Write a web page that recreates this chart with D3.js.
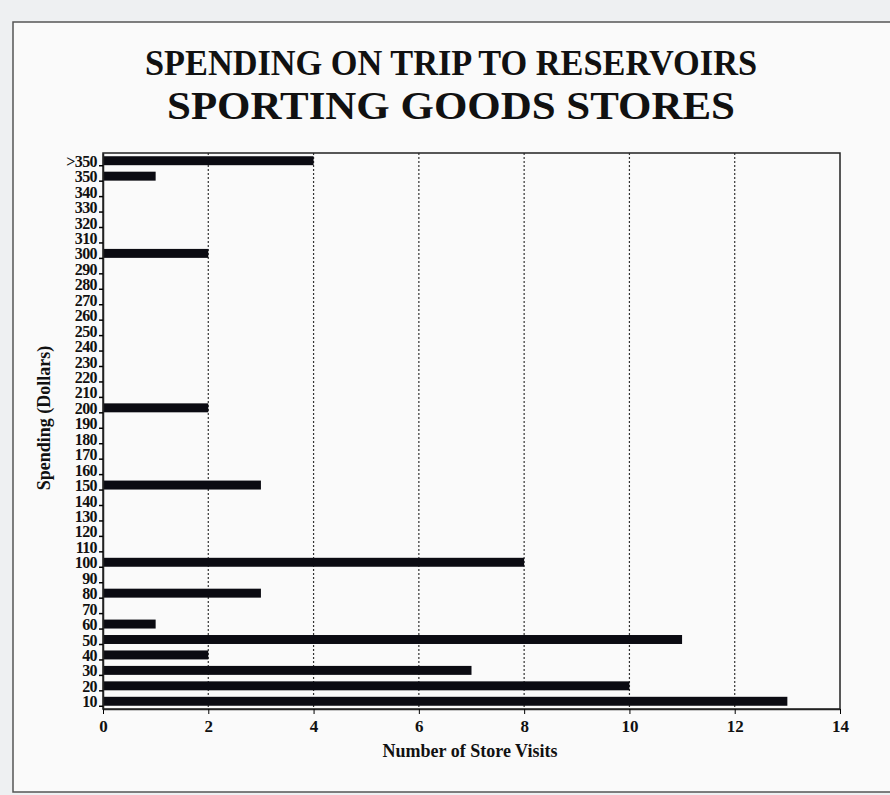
<!DOCTYPE html>
<html>
<head>
<meta charset="utf-8">
<script src="https://cdn.jsdelivr.net/npm/d3@7"></script>
<style>
  body { margin: 0; background: #eef0f2; }
  text { font-family: "Liberation Serif", "Times New Roman", serif; font-weight: bold; fill: #111; }
</style>
</head>
<body>
<div id="chart"></div>
<script type="text/javascript">
// spending brackets, top to bottom as printed
var categories = [">350", "350", "340", "330", "320", "310", "300", "290", "280", "270",
  "260", "250", "240", "230", "220", "210", "200", "190", "180", "170",
  "160", "150", "140", "130", "120", "110", "100", "90", "80", "70",
  "60", "50", "40", "30", "20", "10"];
// number of store visits per bracket
var visits = [4, 1, 0, 0, 0, 0, 2, 0, 0, 0,
  0, 0, 0, 0, 0, 0, 2, 0, 0, 0,
  0, 3, 0, 0, 0, 0, 8, 0, 3, 0,
  1, 11, 2, 7, 10, 13];
var xTicks = [0, 2, 4, 6, 8, 10, 12, 14];
var titleLines = ["SPENDING ON TRIP TO RESERVOIRS", "SPORTING GOODS STORES"];

function drawChart() {
  var W = 890, H = 795;
  var margin = {top: 153, right: 50, bottom: 86, left: 103},
      width = W - margin.left - margin.right,
      height = H - margin.top - margin.bottom;

  var svg = d3.select("#chart").append("svg")
      .attr("width", W)
      .attr("height", H);

  // paper frame
  svg.append("rect")
      .attr("x", 13).attr("y", 22)
      .attr("width", 890).attr("height", 770)
      .attr("fill", "#fafafa")
      .attr("stroke", "#555")
      .attr("stroke-width", 1.5);

  // titles
  svg.append("text")
      .attr("x", 451).attr("y", 75)
      .attr("text-anchor", "middle")
      .attr("font-size", 35)
      .attr("textLength", 612)
      .attr("lengthAdjust", "spacingAndGlyphs")
      .text(titleLines[0]);
  svg.append("text")
      .attr("x", 451).attr("y", 119)
      .attr("text-anchor", "middle")
      .attr("font-size", 40)
      .attr("textLength", 568)
      .attr("lengthAdjust", "spacingAndGlyphs")
      .text(titleLines[1]);

  var g = svg.append("g")
      .attr("transform", "translate(" + margin.left + "," + margin.top + ")");

  var x = d3.scaleLinear().domain([0, 14]).range([0, width]);
  var y = d3.scaleBand().domain(categories).range([0, height]).paddingInner(0.42).paddingOuter(0.21);

  // dotted grid
  g.selectAll(".grid")
      .data(xTicks.slice(1, -1))
    .enter().append("line")
      .attr("x1", function(d) { return x(d); })
      .attr("x2", function(d) { return x(d); })
      .attr("y1", 0).attr("y2", height)
      .attr("stroke", "#333")
      .attr("stroke-width", 1.2)
      .attr("stroke-dasharray", "2,2");

  // bars
  var data = categories.map(function(c, i) { return {cat: c, v: visits[i]}; });
  g.selectAll(".bar")
      .data(data.filter(function(d) { return d.v > 0; }))
    .enter().append("rect")
      .attr("x", 0)
      .attr("y", function(d) { return y(d.cat); })
      .attr("width", function(d) { return x(d.v); })
      .attr("height", y.bandwidth())
      .attr("fill", "#0b0b12");

  // plot frame
  g.append("rect")
      .attr("width", width).attr("height", height)
      .attr("fill", "none")
      .attr("stroke", "#222")
      .attr("stroke-width", 1.5);

  // x axis
  var xAxis = g.append("g")
      .attr("transform", "translate(0," + height + ")")
      .call(d3.axisBottom(x).tickValues(xTicks).tickSize(5).tickSizeOuter(0).tickPadding(6));
  xAxis.select(".domain").attr("stroke", "#222").attr("stroke-width", 1.5);
  xAxis.selectAll("text").attr("font-size", 17).attr("font-family", null);

  // y axis
  var yAxis = g.append("g")
      .call(d3.axisLeft(y).tickSize(4).tickSizeOuter(0).tickPadding(2));
  yAxis.select(".domain").attr("stroke", "#222").attr("stroke-width", 1.5);
  yAxis.selectAll(".tick line").attr("transform", "translate(0,5)").attr("stroke-width", 1.5);
  yAxis.selectAll("text")
      .attr("font-size", 16)
      .attr("font-family", null)
      .attr("letter-spacing", "-0.6")
      .attr("dy", "0.38em");

  // axis titles
  svg.append("text")
      .attr("x", 470).attr("y", 757)
      .attr("text-anchor", "middle")
      .attr("font-size", 18)
      .text("Number of Store Visits");
  svg.append("text")
      .attr("transform", "translate(50,418) rotate(-90)")
      .attr("text-anchor", "middle")
      .attr("font-size", 18)
      .text("Spending (Dollars)");
}
drawChart();
</script>
</body>
</html>
